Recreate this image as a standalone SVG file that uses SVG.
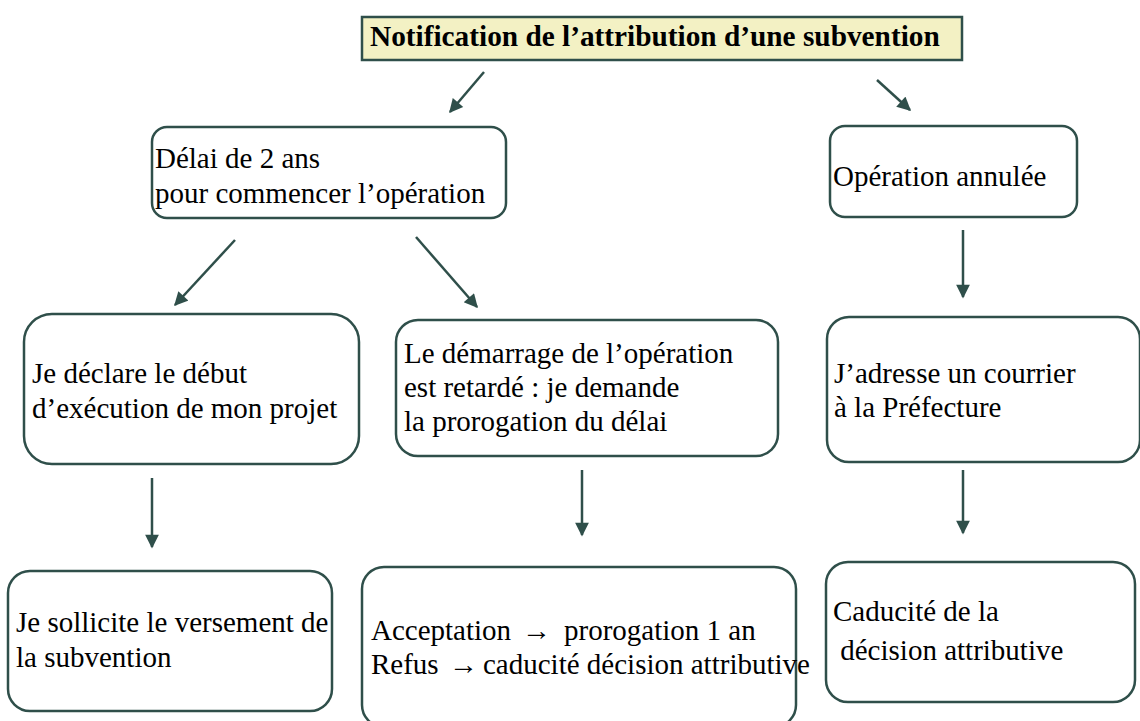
<svg xmlns="http://www.w3.org/2000/svg" width="1140" height="721" viewBox="0 0 1140 721">
<style>
.box{fill:#fff;stroke:#2f4f4a;stroke-width:2.5}
.t{font-family:"Liberation Serif","Times New Roman",serif;font-size:29px;fill:#000}
.tb{font-family:"Liberation Serif","Times New Roman",serif;font-size:29.3px;font-weight:bold;fill:#000}
.c{stroke:#2f4f4a;stroke-width:2.5;fill:none;marker-end:url(#ah)}
</style>
<defs>
<marker id="ah" viewBox="0 0 10 10" refX="9" refY="5" markerWidth="6" markerHeight="5.5" markerUnits="strokeWidth" orient="auto">
<path d="M0,0 L10,5 L0,10 z" fill="#2f4f4a"/>
</marker>
</defs>
<rect width="1140" height="721" fill="#fff"/>
<g id="connectors">
<line class="c" x1="484" y1="72" x2="450" y2="112"/>
<line class="c" x1="877" y1="80" x2="910" y2="110"/>
<line class="c" x1="235" y1="240" x2="175" y2="305"/>
<line class="c" x1="416" y1="237" x2="477" y2="307"/>
<line class="c" x1="963" y1="230" x2="963" y2="297"/>
<line class="c" x1="152" y1="478" x2="152" y2="547"/>
<line class="c" x1="582" y1="470" x2="582" y2="535"/>
<line class="c" x1="963" y1="470" x2="963" y2="533"/>
</g>
<g id="n-notification">
<rect x="362" y="17" width="600" height="43" fill="#f3f1c4" stroke="#2f4f4a" stroke-width="2.5"/>
<text class="tb" x="370" y="46">Notification de l’attribution d’une subvention</text>
</g>
<g id="n-delai">
<rect class="box" x="152" y="127" width="354" height="91" rx="15"/>
<text class="t" x="155" y="168">Délai de 2 ans</text>
<text class="t" x="155" y="203">pour commencer l’opération</text>
</g>
<g id="n-annulee">
<rect class="box" x="830" y="126" width="247" height="91" rx="15"/>
<text class="t" x="833" y="186">Opération annulée</text>
</g>
<g id="n-declare">
<rect class="box" x="24" y="314" width="335" height="150" rx="28"/>
<text class="t" x="32" y="383">Je déclare le début</text>
<text class="t" x="32" y="418">d’exécution de mon projet</text>
</g>
<g id="n-demarrage">
<rect class="box" x="396" y="320" width="382" height="136" rx="22"/>
<text class="t" x="404" y="363">Le démarrage de l’opération</text>
<text class="t" x="404" y="397">est retardé : je demande</text>
<text class="t" x="404" y="431">la prorogation du délai</text>
</g>
<g id="n-courrier">
<rect class="box" x="827" y="317" width="313" height="145" rx="22"/>
<text class="t" x="834" y="383">J’adresse un courrier</text>
<text class="t" x="834" y="417">à la Préfecture</text>
</g>
<g id="n-sollicite">
<rect class="box" x="8" y="571" width="324" height="140" rx="22"/>
<text class="t" x="16" y="632">Je sollicite le versement de</text>
<text class="t" x="16" y="667">la subvention</text>
</g>
<g id="n-acceptation">
<rect class="box" x="362" y="567" width="434" height="160" rx="22"/>
<text class="t" x="371" y="640">Acceptation <tspan x="522">→</tspan><tspan x="564">prorogation 1 an</tspan></text>
<text class="t" x="371" y="674">Refus <tspan x="449">→</tspan><tspan x="483">caducité décision attributive</tspan></text>
</g>
<g id="n-caducite">
<rect class="box" x="826" y="562" width="309" height="140" rx="22"/>
<text class="t" x="833" y="621">Caducité de la</text>
<text class="t" x="833" y="660" xml:space="preserve"> décision attributive</text>
</g>
</svg>
